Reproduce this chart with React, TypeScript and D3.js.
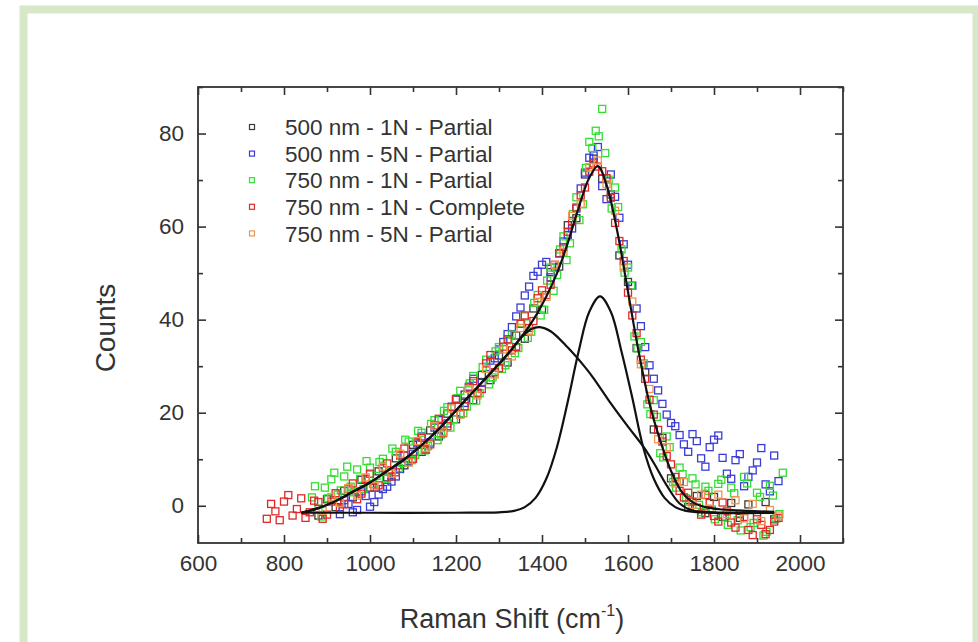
import React, { useEffect, useRef } from "react";
import * as d3 from "d3";

// legend / series
const seriesLabels = [
  "500 nm - 1N - Partial",
  "500 nm - 5N - Partial",
  "750 nm - 1N - Partial",
  "750 nm - 1N - Complete",
  "750 nm - 5N - Partial",
];
const seriesColors = ["#3a3a3a", "#3b3bd6", "#33dd33", "#e02828", "#f0954e"];

const xMajorTicks = [600, 800, 1000, 1200, 1400, 1600, 1800, 2000];
const xMinorTicks = [700, 900, 1100, 1300, 1500, 1700, 1900, 2100];
const yMajorTicks = [0, 20, 40, 60, 80];
const yMinorTicks = [10, 30, 50, 70, 90];

type Pt = [number, number];

const s500n1: Pt[] = [
  [880, -2.1], [900, 1.4], [920, -0.3], [940, 3.2], [960, 1.8], [980, 5.6], [1000, 3.9], [1020, 7.4],
  [1040, 6.1], [1060, 10.2], [1080, 8.7], [1100, 13.1], [1120, 11.6], [1140, 16.2], [1160, 14.9],
  [1180, 19.8], [1200, 18.6], [1220, 23.9], [1240, 22.7], [1260, 28.1], [1280, 27.0], [1300, 32.3],
  [1320, 30.8], [1340, 36.6], [1360, 35.9], [1380, 42.4], [1400, 42.1], [1420, 50.2], [1440, 51.4],
  [1460, 60.3], [1480, 61.8], [1500, 71.2], [1520, 74.6], [1540, 70.3], [1560, 66.9], [1580, 53.8],
  [1600, 48.1], [1620, 33.9], [1640, 28.7], [1660, 16.4], [1680, 14.6], [1700, 5.9], [1720, 5.2],
  [1740, -0.3], [1760, 2.1], [1780, -1.6], [1800, 1.9], [1820, -2.4], [1840, 0.6], [1860, -2.6],
  [1880, 0.3], [1900, -2.2], [1920, 0.8], [1940, -2.9],
];

const s500n5: Pt[] = [
  [930, -1.8], [950, 0.4], [970, -0.9], [990, 2.1], [1010, 0.8], [1030, 3.6], [1050, 5.2], [1070, 7.9],
  [1090, 9.6], [1110, 13.4], [1130, 12.1], [1150, 16.8], [1170, 15.9], [1190, 21.3], [1210, 19.8],
  [1230, 25.6], [1250, 24.1], [1270, 29.8], [1290, 31.7], [1310, 35.2], [1330, 38.4], [1350, 42.6],
  [1370, 47.1], [1390, 50.3], [1410, 52.4], [1430, 51.2], [1450, 56.8], [1470, 59.6], [1490, 68.2],
  [1510, 74.8], [1530, 77.1], [1550, 65.9], [1570, 66.4], [1590, 56.2], [1610, 47.3], [1630, 38.6],
  [1650, 30.2], [1670, 24.8], [1690, 19.6], [1710, 17.1], [1730, 13.2], [1750, 15.4], [1770, 10.2],
  [1790, 12.6], [1810, 15.1], [1830, 6.9], [1850, 9.8], [1870, 4.2], [1890, 7.6], [1910, 12.4],
  [1930, 3.1], [1950, 5.3],
  [940, 1.2], [960, -1.4], [980, 3.1], [1000, -0.2], [1020, 2.4], [1040, 4.1], [1060, 6.3], [1080, 10.8],
  [1100, 11.2], [1120, 14.9], [1140, 13.6], [1160, 18.4], [1180, 17.7], [1200, 22.8], [1220, 22.1],
  [1240, 27.3], [1260, 26.4], [1280, 31.2], [1300, 33.6], [1320, 36.9], [1340, 40.7], [1360, 45.2],
  [1380, 49.4], [1400, 51.8], [1420, 49.1], [1440, 54.3], [1460, 58.2], [1480, 63.9], [1500, 71.6],
  [1520, 75.3], [1540, 68.7], [1560, 71.2], [1580, 61.9], [1600, 51.8], [1620, 42.4], [1640, 34.1],
  [1660, 27.3], [1680, 21.9], [1700, 17.8], [1720, 15.2], [1740, 11.6], [1760, 13.9], [1780, 8.4],
  [1800, 14.2], [1820, 10.3], [1840, 5.8], [1860, 11.1], [1880, 6.2], [1900, 9.3], [1920, 4.6],
  [1940, 10.8],
];

const s750n1: Pt[] = [
  [865, 1.8], [880, -0.6], [895, 3.9], [910, 5.7], [925, 2.4], [940, 6.3], [955, 4.1], [970, 7.8],
  [985, 3.6], [1000, 8.2], [1015, 6.4], [1030, 10.1], [1045, 7.3], [1060, 11.6], [1075, 9.2],
  [1090, 13.8], [1105, 10.9], [1120, 15.7], [1135, 12.8], [1150, 18.4], [1165, 15.3], [1180, 21.2],
  [1195, 18.6], [1210, 24.7], [1225, 21.3], [1240, 27.9], [1255, 24.2], [1270, 31.4], [1285, 27.6],
  [1300, 34.1], [1315, 30.2], [1330, 36.8], [1345, 33.9], [1360, 40.7], [1375, 37.4], [1390, 45.3],
  [1405, 42.1], [1420, 51.2], [1435, 49.6], [1450, 57.9], [1465, 56.4], [1480, 66.3], [1495, 64.8],
  [1510, 78.2], [1525, 80.6], [1540, 85.3], [1555, 70.1], [1570, 68.4], [1585, 55.1], [1600, 51.2],
  [1615, 36.4], [1630, 35.2], [1645, 21.8], [1660, 22.7], [1675, 11.3], [1690, 14.9], [1705, 5.1],
  [1720, 8.2], [1735, 1.6], [1750, 5.9], [1765, 0.2], [1780, 4.1], [1795, -0.8], [1810, 4.7],
  [1825, -2.3], [1840, 3.9], [1855, -3.1], [1870, 6.2], [1885, -4.6], [1900, 2.8], [1915, -6.4],
  [1930, 4.3], [1945, -2.7], [1960, 7.1],
  [872, 4.2], [887, -2.3], [902, 1.6], [917, 7.1], [932, 3.3], [947, 8.4], [962, 2.9], [977, 5.8],
  [992, 9.6], [1007, 4.7], [1022, 9.4], [1037, 5.8], [1052, 12.3], [1067, 8.1], [1082, 14.2],
  [1097, 9.8], [1112, 16.1], [1127, 11.9], [1142, 17.6], [1157, 14.1], [1172, 20.4], [1187, 16.8],
  [1202, 23.1], [1217, 19.9], [1232, 26.3], [1247, 22.6], [1262, 29.8], [1277, 26.1], [1292, 33.2],
  [1307, 29.4], [1322, 35.6], [1337, 32.8], [1352, 39.2], [1367, 36.1], [1382, 43.6], [1397, 40.9],
  [1412, 48.4], [1427, 46.2], [1442, 55.1], [1457, 52.8], [1472, 62.7], [1487, 61.4], [1502, 72.6],
  [1517, 76.9], [1532, 79.4], [1547, 75.8], [1562, 63.9], [1577, 64.2], [1592, 50.1], [1607, 47.3],
  [1622, 33.8], [1637, 30.6], [1652, 19.7], [1667, 19.1], [1682, 10.4], [1697, 12.6], [1712, 3.9],
  [1727, 6.8], [1742, 0.9], [1757, 4.6], [1772, -1.4], [1787, 3.2], [1802, -2.9], [1817, 5.6],
  [1832, -4.1], [1847, 2.7], [1862, -5.3], [1877, 4.8], [1892, -3.7], [1907, 1.9], [1922, -5.6],
  [1937, 2.2], [1952, -1.8],
];

const s750n1c: Pt[] = [
  [760, -2.8], [780, -1.2], [800, 0.9], [820, -2.1], [840, 1.6], [860, -1.4], [880, 0.8], [900, -1.9],
  [920, 2.7], [940, 0.3], [960, 4.8], [980, 2.6], [1000, 6.9], [1020, 4.4], [1040, 9.1], [1060, 7.2],
  [1080, 12.3], [1100, 10.1], [1120, 14.6], [1140, 13.2], [1160, 18.7], [1180, 17.1], [1200, 22.9],
  [1220, 21.4], [1240, 26.8], [1260, 25.1], [1280, 32.4], [1300, 29.6], [1320, 35.8], [1340, 34.1],
  [1360, 40.9], [1380, 39.7], [1400, 46.3], [1420, 47.5], [1440, 54.2], [1460, 58.9], [1480, 64.1],
  [1500, 68.4], [1520, 73.6], [1540, 71.9], [1560, 66.2], [1580, 56.9], [1600, 45.8], [1620, 37.1],
  [1640, 27.3], [1660, 19.6], [1680, 13.8], [1700, 8.9], [1720, 3.2], [1740, 2.8], [1760, -0.4],
  [1780, 2.3], [1800, -2.2], [1820, 0.7], [1840, -3.6], [1860, -1.8], [1880, -5.2], [1900, -2.9],
  [1920, -6.1], [1940, -3.4],
  [770, 0.4], [790, -3.1], [810, 2.3], [830, -0.7], [850, -2.6], [870, 1.1], [890, -2.8], [910, 0.9],
  [930, -0.6], [950, 3.7], [970, 1.4], [990, 5.8], [1010, 3.9], [1030, 8.2], [1050, 6.3], [1070, 10.8],
  [1090, 9.4], [1110, 13.7], [1130, 12.1], [1150, 17.3], [1170, 15.6], [1190, 21.2], [1210, 19.7],
  [1230, 25.4], [1250, 24.3], [1270, 30.6], [1290, 28.7], [1310, 34.2], [1330, 33.4], [1350, 39.1],
  [1370, 38.2], [1390, 44.6], [1410, 45.3], [1430, 51.8], [1450, 55.6], [1470, 61.2], [1490, 66.7],
  [1510, 71.8], [1530, 72.9], [1550, 70.4], [1570, 60.8], [1590, 52.6], [1610, 40.9], [1630, 31.4],
  [1650, 22.8], [1670, 16.3], [1690, 10.7], [1710, 6.2], [1730, 1.8], [1750, 0.9], [1770, -1.9],
  [1790, 0.6], [1810, -3.4], [1830, -1.2], [1850, -4.7], [1870, -2.4], [1890, -6.3], [1910, -4.1],
  [1930, -5.2], [1950, -2.6],
];

const s750n5: Pt[] = [
  [890, -1.1], [910, 1.9], [930, 0.6], [950, 3.8], [970, 2.2], [990, 6.1], [1010, 4.3], [1030, 8.4],
  [1050, 6.9], [1070, 11.2], [1090, 9.3], [1110, 13.9], [1130, 12.4], [1150, 17.2], [1170, 15.8],
  [1190, 20.9], [1210, 19.6], [1230, 25.1], [1250, 23.7], [1270, 29.4], [1290, 28.2], [1310, 33.6],
  [1330, 32.1], [1350, 38.2], [1370, 37.6], [1390, 43.8], [1410, 44.9], [1430, 51.7], [1450, 54.6],
  [1470, 62.3], [1490, 64.9], [1510, 72.8], [1530, 74.2], [1550, 69.1], [1570, 63.4], [1590, 51.2],
  [1610, 43.9], [1630, 30.4], [1650, 25.1], [1670, 14.3], [1690, 12.6], [1710, 4.8], [1730, 5.1],
  [1750, 0.2], [1770, 2.4], [1790, -0.6], [1810, 2.4], [1830, -1.8], [1850, 1.2], [1870, -2.7],
  [1890, 0.4], [1910, -3.3], [1930, -0.9], [1950, -2.1],
];

const allSeries = [s500n1, s500n5, s750n1, s750n1c, s750n5];

// fitted curves
const fitTotal: Pt[] = [
  [840, -1.5], [880, -0.5], [920, 1], [960, 3], [1000, 5], [1040, 7.5], [1080, 10], [1120, 13],
  [1160, 16.5], [1200, 20.5], [1240, 24.5], [1280, 28.5], [1320, 32.6], [1350, 36], [1380, 40],
  [1410, 45], [1435, 50], [1460, 56.5], [1485, 64], [1510, 70.5], [1530, 73], [1550, 69],
  [1575, 59], [1600, 46], [1625, 33], [1650, 22], [1675, 14], [1700, 7.5], [1725, 3], [1750, 0.8],
  [1780, -0.3], [1820, -0.8], [1880, -1.1], [1940, -1.3],
];

const fitBroad: Pt[] = [
  [840, -1.5], [880, -0.5], [920, 1], [960, 3], [1000, 5], [1040, 7.5], [1080, 10], [1120, 13],
  [1160, 16.5], [1200, 20.5], [1240, 24.5], [1280, 28.5], [1320, 32.5], [1350, 36], [1375, 38],
  [1395, 38.4], [1420, 37.5], [1460, 34], [1500, 29.8], [1520, 27.4], [1560, 22], [1600, 17],
  [1635, 12.8], [1660, 9.2], [1690, 4.4], [1720, 0.5], [1750, -1], [1800, -1.4], [1880, -1.5],
  [1940, -1.5],
];

const fitNarrow: Pt[] = [
  [840, -1.5], [1000, -1.5], [1200, -1.5], [1300, -1.4], [1335, -1.1], [1360, -0.3], [1385, 1.7],
  [1410, 5.8], [1435, 12.7], [1460, 22.4], [1485, 33.1], [1510, 41.7], [1535, 45], [1560, 41.7],
  [1585, 33.1], [1610, 23.2], [1635, 12.7], [1660, 5.8], [1685, 1.7], [1710, -0.3], [1735, -1.1],
  [1785, -1.5], [1940, -1.5],
];

const FONT = "'Liberation Sans', Arial, sans-serif";

const App = () => {
  const ref = useRef<SVGSVGElement>(null);

  useEffect(() => {
    const svg = d3.select(ref.current);
    svg.selectAll("*").remove();

    const W = 978;
    const H = 642;
    const plot = { left: 198, right: 843, top: 87, bottom: 543 };

    // background + green frame
    svg.append("rect").attr("width", W).attr("height", H).attr("fill", "#ffffff");
    svg
      .append("rect")
      .attr("x", 23.5)
      .attr("y", 9.5)
      .attr("width", 953)
      .attr("height", 660)
      .attr("fill", "none")
      .attr("stroke", "#d6e8c8")
      .attr("stroke-width", 8);

    const x = d3.scaleLinear().domain([600, 2100]).range([plot.left, plot.right]);
    const y = d3.scaleLinear().domain([-8, 90]).range([plot.bottom, plot.top]);

    const axisColor = "#333";

    const styleAxis = (g: any) => {
      g.select(".domain").remove();
      g.selectAll("line").attr("stroke", axisColor).attr("stroke-width", 1.6);
      g.selectAll("text").attr("fill", "#333").attr("font-family", FONT).attr("font-size", 22.5);
    };

    // bottom axis
    svg
      .append("g")
      .attr("transform", `translate(0,${plot.bottom})`)
      .call(d3.axisBottom(x).tickValues(xMajorTicks).tickSize(-8).tickPadding(12).tickFormat(d3.format("d")))
      .call(styleAxis);
    svg
      .append("g")
      .attr("transform", `translate(0,${plot.bottom})`)
      .call(d3.axisBottom(x).tickValues(xMinorTicks).tickSize(-5).tickFormat(() => ""))
      .call(styleAxis);
    // top axis
    svg
      .append("g")
      .attr("transform", `translate(0,${plot.top})`)
      .call(d3.axisTop(x).tickValues(xMajorTicks).tickSize(-8).tickFormat(() => ""))
      .call(styleAxis);
    svg
      .append("g")
      .attr("transform", `translate(0,${plot.top})`)
      .call(d3.axisTop(x).tickValues(xMinorTicks).tickSize(-5).tickFormat(() => ""))
      .call(styleAxis);
    // left axis
    svg
      .append("g")
      .attr("transform", `translate(${plot.left},0)`)
      .call(d3.axisLeft(y).tickValues(yMajorTicks).tickSize(-8).tickPadding(14).tickFormat(d3.format("d")))
      .call(styleAxis);
    svg
      .append("g")
      .attr("transform", `translate(${plot.left},0)`)
      .call(d3.axisLeft(y).tickValues(yMinorTicks).tickSize(-5).tickFormat(() => ""))
      .call(styleAxis);
    // right axis
    svg
      .append("g")
      .attr("transform", `translate(${plot.right},0)`)
      .call(d3.axisRight(y).tickValues(yMajorTicks).tickSize(-8).tickFormat(() => ""))
      .call(styleAxis);
    svg
      .append("g")
      .attr("transform", `translate(${plot.right},0)`)
      .call(d3.axisRight(y).tickValues(yMinorTicks).tickSize(-5).tickFormat(() => ""))
      .call(styleAxis);

    // frame
    svg
      .append("rect")
      .attr("x", plot.left)
      .attr("y", plot.top)
      .attr("width", plot.right - plot.left)
      .attr("height", plot.bottom - plot.top)
      .attr("fill", "none")
      .attr("stroke", axisColor)
      .attr("stroke-width", 1.8);

    // scatter squares
    const sq = 7;
    allSeries.forEach((data, i) => {
      svg
        .append("g")
        .selectAll("rect")
        .data(data)
        .join("rect")
        .attr("x", (d) => x(d[0]) - sq / 2)
        .attr("y", (d) => y(d[1]) - sq / 2)
        .attr("width", sq)
        .attr("height", sq)
        .attr("fill", "none")
        .attr("stroke", seriesColors[i])
        .attr("stroke-width", 1.3);
    });

    // fit curves
    const line = d3
      .line<Pt>()
      .x((d) => x(d[0]))
      .y((d) => y(d[1]))
      .curve(d3.curveCatmullRom.alpha(0.5));

    [fitBroad, fitNarrow, fitTotal].forEach((f) => {
      svg
        .append("path")
        .attr("d", line(f))
        .attr("fill", "none")
        .attr("stroke", "#111")
        .attr("stroke-width", 2.2);
    });

    // legend
    const legend = svg.append("g").attr("font-family", FONT).attr("font-size", 22.5);
    seriesLabels.forEach((lab, i) => {
      const cy = 127 + i * 26.6;
      legend
        .append("rect")
        .attr("x", 252 - 2.5)
        .attr("y", cy - 2.5)
        .attr("width", 5)
        .attr("height", 5)
        .attr("fill", "none")
        .attr("stroke", seriesColors[i])
        .attr("stroke-width", 1.2);
      legend
        .append("text")
        .attr("x", 285)
        .attr("y", cy)
        .attr("dy", "0.36em")
        .attr("fill", "#333")
        .text(lab);
    });

    // axis titles
    const xt = svg
      .append("text")
      .attr("x", 512)
      .attr("y", 628)
      .attr("text-anchor", "middle")
      .attr("font-family", FONT)
      .attr("font-size", 27)
      .attr("fill", "#333");
    xt.append("tspan").text("Raman Shift (cm");
    xt.append("tspan").attr("font-size", 16).attr("dy", -12).text("-1");
    xt.append("tspan").attr("dy", 12).text(")");

    svg
      .append("text")
      .attr("transform", "translate(115,328) rotate(-90)")
      .attr("text-anchor", "middle")
      .attr("font-family", FONT)
      .attr("font-size", 28)
      .attr("fill", "#333")
      .text("Counts");
  }, []);

  return (
    <svg
      ref={ref}
      width={978}
      height={642}
      style={{ position: "absolute", left: 0, top: 0, display: "block" }}
    />
  );
};

export default App;
